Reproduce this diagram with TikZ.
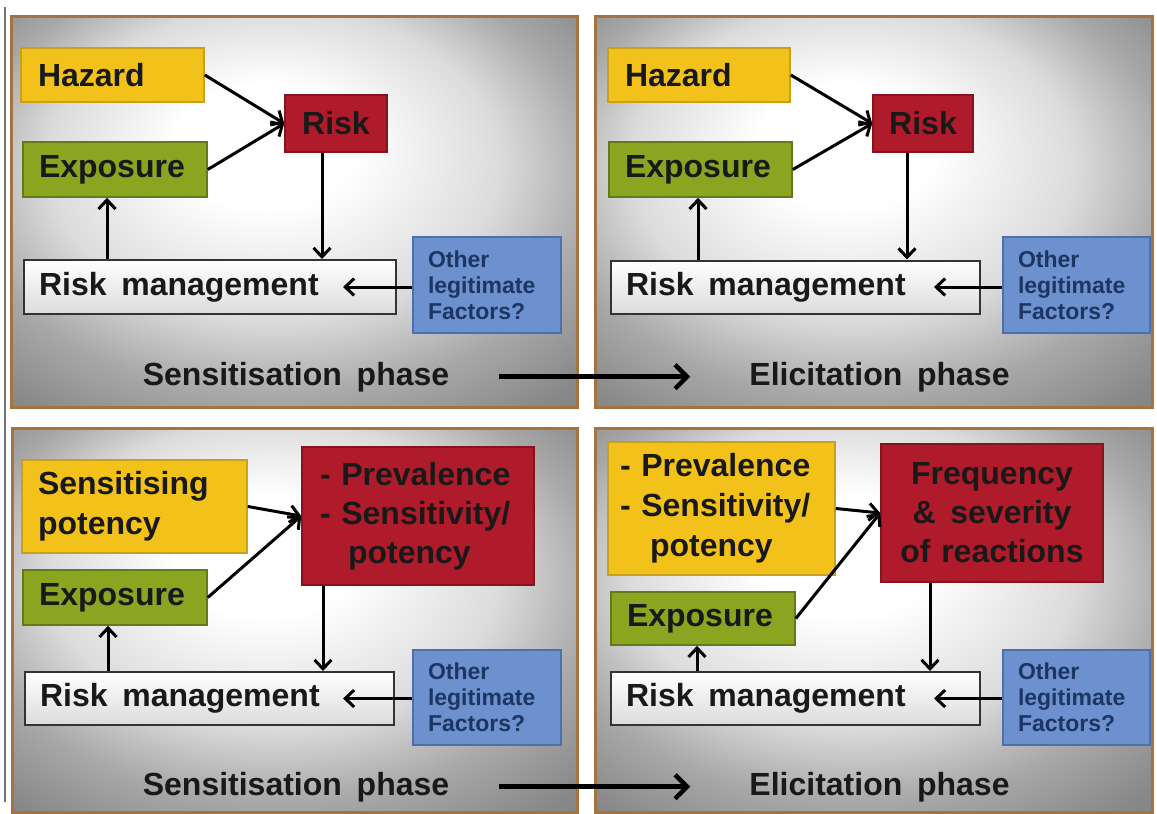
\documentclass[tikz,border=0pt]{standalone}
\usepackage{fontspec}
\setmainfont{Liberation Sans}
\usetikzlibrary{arrows.meta}
\definecolor{yel}{HTML}{F2C21B}
\definecolor{yelb}{HTML}{C9A019}
\definecolor{grn}{HTML}{8BA521}
\definecolor{grnb}{HTML}{647A18}
\definecolor{redf}{HTML}{B01B2B}
\definecolor{redb}{HTML}{861420}
\definecolor{blu}{HTML}{6C91CE}
\definecolor{blub}{HTML}{4C70AE}
\definecolor{navy}{HTML}{1C3563}
\definecolor{brd}{HTML}{A5733F}
\pgfdeclareradialshading{panelbg}{\pgfpoint{-3bp}{10bp}}{color(0bp)=(white); color(8bp)=(white); color(20bp)=(white!86!black); color(28bp)=(white!66!black); color(36bp)=(white!53!black); color(50bp)=(white!48!black)}
\newcommand\wgap{\hspace{0.46em}}
\tikzset{
 bx/.style={draw, line width=1.6pt, inner xsep=0pt, inner ysep=0pt, font=\bfseries\fontsize{32}{39}\selectfont, text=black!90},
 hz/.style={bx, fill=yel, draw=yelb},
 ex/.style={bx, fill=grn, draw=grnb},
 rk/.style={bx, fill=redf, draw=redb},
 rmg/.style={bx, top color=white, bottom color=black!14, draw=black!80, line width=2pt},
 oth/.style={bx, fill=blu, draw=blub, text=navy, font=\bfseries\fontsize{23}{26}\selectfont},
 lbl/.style={inner sep=0pt, anchor=base, font=\bfseries\fontsize{32}{38}\selectfont, text=black!90},
 arr/.style={line width=3pt, -{Straight Barb[length=9pt,width=17pt]}},
 bigarr/.style={line width=4.5pt, -{Straight Barb[length=12pt,width=24pt]}},
 panel/.style={shading=panelbg, draw=brd, line width=3pt},
}
\begin{document}
\begin{tikzpicture}[x=1pt,y=-1pt]
\useasboundingbox[fill=white] (0,0) rectangle (1157,814);
\draw[black!55, line width=1.5pt] (5,7) -- (5,802);
% panels
\path[panel] (11,16) rectangle (577,407);
\path[panel] (595,16) rectangle (1152,407);
\path[panel] (12,428) rectangle (577,812);
\path[panel] (595,428) rectangle (1152,812);

% ---------- Panel 1 ----------
\node[hz, minimum width=183pt, minimum height=54pt, text width=149pt, align=left] (h1) at (112.5,75) {Hazard};
\node[ex, minimum width=184pt, minimum height=55pt, text width=152pt, align=left] (e1) at (115,169.5) {Exposure};
\node[rk, minimum width=102pt, minimum height=57pt, align=center] (r1) at (336,123.5) {Risk};
\node[rmg, minimum width=372pt, minimum height=54pt, text width=342pt, align=left] (rm1) at (210,287) {Risk\wgap management};
\node[oth, minimum width=148pt, minimum height=96pt, text width=118pt, align=left] (o1) at (487,285) {Other\\legitimate\\Factors?};
\node[lbl] (s1) at (296,385) {Sensitisation\wgap phase};
\draw[arr] (h1.east) -- (r1.west);
\draw[arr] (e1.east) -- (r1.west);
\path ([xshift=-14pt]r1.south) coordinate (a1) ([xshift=-8pt]e1.south) coordinate (b1) ([xshift=-54pt]rm1.east) coordinate (c1);
\draw[arr] (a1) -- (a1 |- rm1.north);
\draw[arr] (b1 |- rm1.north) -- (b1);
\draw[arr] (o1.west |- rm1.east) -- (c1);

% ---------- Panel 2 ----------
\node[hz, minimum width=182pt, minimum height=54pt, text width=148pt, align=left] (h2) at (699,75) {Hazard};
\node[ex, minimum width=183pt, minimum height=55pt, text width=151pt, align=left] (e2) at (700.5,169.5) {Exposure};
\node[rk, minimum width=100pt, minimum height=57pt, align=center] (r2) at (923,123.5) {Risk};
\node[rmg, minimum width=369pt, minimum height=53pt, text width=339pt, align=left] (rm2) at (795.5,287) {Risk\wgap management};
\node[oth, minimum width=147pt, minimum height=96pt, text width=117pt, align=left] (o2) at (1076.5,285) {Other\\legitimate\\Factors?};
\node[lbl] (el2) at (879.5,385) {Elicitation\wgap phase};
\draw[arr] (h2.east) -- (r2.west);
\draw[arr] (e2.east) -- (r2.west);
\path ([xshift=-16pt]r2.south) coordinate (a2) ([xshift=-2.5pt]e2.south) coordinate (b2) ([xshift=-47pt]rm2.east) coordinate (c2);
\draw[arr] (a2) -- (a2 |- rm2.north);
\draw[arr] (b2 |- rm2.north) -- (b2);
\draw[arr] (o2.west |- rm2.east) -- (c2);
\draw[bigarr] ([xshift=50pt]s1.east) -- ([xshift=-59pt]el2.west);

% ---------- Panel 3 ----------
\node[hz, minimum width=225pt, minimum height=93pt, text width=193pt, align=left, font=\bfseries\fontsize{32}{40}\selectfont] (h3) at (134.5,506.5) {Sensitising\\potency};
\node[ex, minimum width=184pt, minimum height=55pt, text width=152pt, align=left] (e3) at (115,597.5) {Exposure};
\node[rk, minimum width=232pt, minimum height=138pt, text width=196pt, align=left] (r3) at (418,516) {- Prevalence\\- Sensitivity/\\\hspace*{28pt}potency};
\node[rmg, minimum width=369pt, minimum height=53pt, text width=339pt, align=left] (rm3) at (209.5,698.5) {Risk\wgap management};
\node[oth, minimum width=148pt, minimum height=95pt, text width=118pt, align=left] (o3) at (487,697.5) {Other\\legitimate\\Factors?};
\node[lbl] (s3) at (296,795) {Sensitisation\wgap phase};
\draw[arr] (h3.east) -- (r3.west);
\draw[arr] (e3.east) -- (r3.west);
\path ([xshift=-95pt]r3.south) coordinate (a3) ([xshift=-7pt]e3.south) coordinate (b3) ([xshift=-52pt]rm3.east) coordinate (c3);
\draw[arr] (a3) -- (a3 |- rm3.north);
\draw[arr] (b3 |- rm3.north) -- (b3);
\draw[arr] (o3.west |- rm3.east) -- (c3);

% ---------- Panel 4 ----------
\node[hz, minimum width=227pt, minimum height=133pt, text width=203pt, align=left, font=\bfseries\fontsize{32}{40}\selectfont] (h4) at (721.5,508.5) {- Prevalence\\- Sensitivity/\\\hspace*{30pt}potency};
\node[ex, minimum width=184pt, minimum height=53pt, text width=152pt, align=left] (e4) at (703,618.5) {Exposure};
\node[rk, minimum width=222pt, minimum height=138pt, text width=200pt, align=center] (r4) at (992,513) {Frequency\\\&\wgap severity\\of reactions};
\node[rmg, minimum width=369pt, minimum height=53pt, text width=339pt, align=left] (rm4) at (795.5,698.5) {Risk\wgap management};
\node[oth, minimum width=147pt, minimum height=95pt, text width=117pt, align=left] (o4) at (1076.5,697.5) {Other\\legitimate\\Factors?};
\node[lbl] (el4) at (879.5,795) {Elicitation\wgap phase};
\draw[arr] (h4.east) -- (r4.west);
\draw[arr] (e4.east) -- (r4.west);
\path ([xshift=-62pt]r4.south) coordinate (a4) ([xshift=-6pt]e4.south) coordinate (b4) ([xshift=-47pt]rm4.east) coordinate (c4);
\draw[arr] (a4) -- (a4 |- rm4.north);
\draw[arr] (b4 |- rm4.north) -- (b4);
\draw[arr] (o4.west |- rm4.east) -- (c4);
\draw[bigarr] ([xshift=50pt]s3.east) -- ([xshift=-59pt]el4.west);
\end{tikzpicture}
\end{document}
